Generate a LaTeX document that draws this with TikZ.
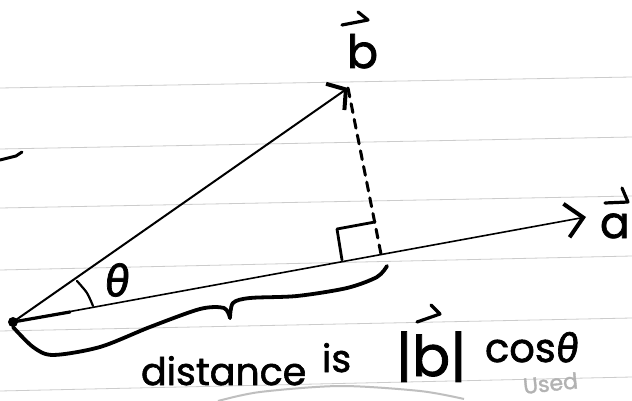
\documentclass[tikz,border=0pt]{standalone}
\usepackage{fontspec}
\setmainfont{Poppins}[FakeBold=1.6]
\newfontfamily\grk{Fira Sans}[FakeBold=1.6]
\usetikzlibrary{arrows.meta}
\begin{document}
\begin{tikzpicture}[x=1pt,y=-1pt,
  ink/.style={line cap=round,line join=round,black},
  rule/.style={gray!40,line width=0.8pt},
  lbl/.style={inner sep=0pt,outer sep=0pt,anchor=base west},
  hand/.style={inner sep=0pt,outer sep=0pt,anchor=base west,font=\fontsize{38}{38}\selectfont},
  vechead/.style={ink,line width=3.2pt}]
\useasboundingbox (0,0) rectangle (632,401);
\fill[white] (0,0) rectangle (632,401);
% ruled paper
\foreach \ya/\yb in {88/77,149/137,208/196,270/256,331/318,391/377}
  \draw[rule] (0,\ya) -- (632,\yb);
% points
\coordinate (O) at (13,322);
\coordinate (B) at (348,88);
\coordinate (A) at (586,217);
\coordinate (F) at (381,254);
\coordinate (T) at (70,312);
% vectors
\draw[ink,line width=1.6pt,-{Straight Barb[length=17pt,width=34pt,line width=4pt]}] (O) -- (A);
\draw[ink,line width=3.2pt] (O) -- (T);
\draw[ink,line width=2pt,-{Straight Barb[length=13pt,width=32pt,line width=4pt]}] (O) -- (B);
\draw[ink,line width=3pt,dash pattern=on 9pt off 7pt] (B) -- (F);
\fill (O) circle (5);
% right angle mark
\draw[ink,line width=2.8pt] (342,260) -- (337,229) -- (375,222);
% angle
\draw[ink,line width=2.2pt] plot[smooth] coordinates {(77,281) (87,293) (93,306)};
\node[inner sep=0pt,font=\grk\itshape\fontsize{44}{44}\selectfont] (th) at (117,280) {θ};
% brace
\draw[ink,line width=3.8pt] plot[smooth] coordinates {(13,327) (33,347) (53,355) (100,347) (150,327) (200,309) (224,308) (230,318)};
\draw[ink,line width=3.8pt] plot[smooth] coordinates {(230,318) (233,303) (250,298) (297,296) (347,288) (377,277) (387,266)};
% labels
\node[lbl,font=\fontsize{46}{46}\selectfont] (lb) at (347,68) {b};
\draw[vechead] (342,25) -- (368,20) -- (358,12);
\node[lbl,font=\fontsize{44}{44}\selectfont] (la) at (600,238) {a};
\draw[vechead] (605,203) -- (628,202) -- (622,188);
% text
\node[hand] (t1) at (141,385) {distance};
\node[hand] (t2) at (322,372) {is};
\node[hand,font=\fontsize{56}{56}\selectfont] (t3) at (396,376) {|b|};
\draw[vechead] (417,322) -- (440,314) -- (431,305);
\node[hand,font=\fontsize{40}{40}\selectfont] (t4) at (485,362) {cos{\grk\itshape θ}};
\node[lbl,gray!60,font=\fontsize{22}{22}\selectfont,rotate=6] (u) at (524,394) {Used};
\draw[gray!50,line width=2pt] plot[smooth] coordinates {(218,401) (260,392) (340,386) (420,391) (464,399)};
% left mark
\draw[ink,line width=3pt] (0,160) -- (16,156) -- (22,152);
\end{tikzpicture}
\end{document}
